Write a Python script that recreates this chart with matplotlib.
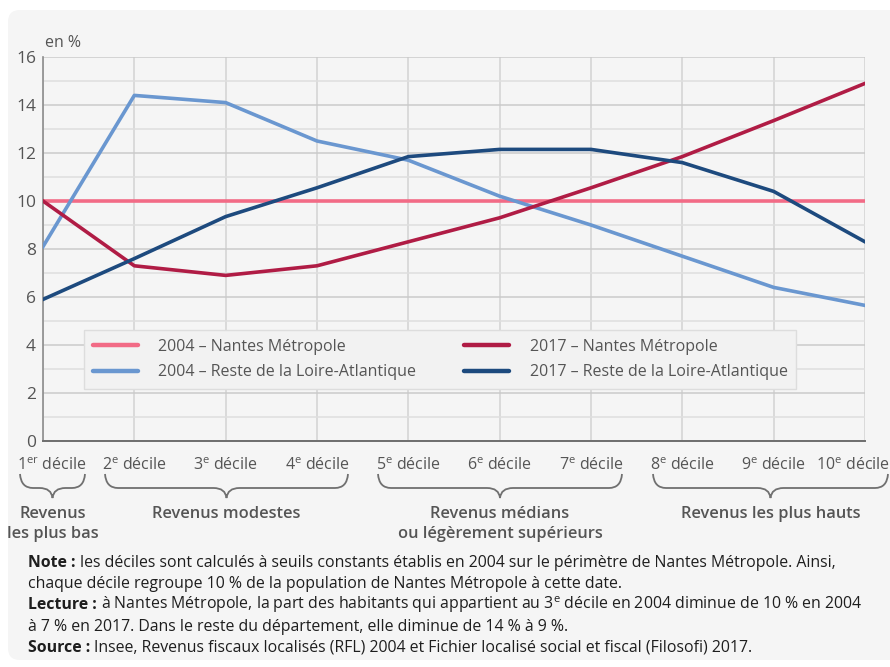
import matplotlib.pyplot as plt
from matplotlib.patches import FancyBboxPatch, PathPatch
from matplotlib.path import Path

plt.rcParams['font.family'] = ['Open Sans', 'DejaVu Sans']
plt.rcParams['mathtext.fontset'] = 'custom'
plt.rcParams['mathtext.rm'] = 'Open Sans'

# données (en %)
deciles = list(range(1, 11))
decile_labels = [r"1$^{\mathrm{er}}$ décile"] + [i + r"$^{\mathrm{e}}$ décile" for i in
                                                  ["2", "3", "4", "5", "6", "7", "8", "9", "10"]]
nantes_2004 = [10.0, 10.0, 10.0, 10.0, 10.0, 10.0, 10.0, 10.0, 10.0, 10.0]
reste_2004 = [8.1, 14.4, 14.1, 12.5, 11.7, 10.2, 9.0, 7.7, 6.4, 5.65]
nantes_2017 = [10.0, 7.3, 6.9, 7.3, 8.3, 9.3, 10.55, 11.85, 13.35, 14.9]
reste_2017 = [5.9, 7.6, 9.35, 10.55, 11.85, 12.15, 12.15, 11.6, 10.4, 8.3]

groups = [("Revenus\nles plus bas", 1, 1), ("Revenus modestes", 2, 4),
          ("Revenus médians\nou légèrement supérieurs", 5, 7), ("Revenus les plus hauts", 8, 10)]

grey_txt = "#555555"
W, H = 890, 667
fig = plt.figure(figsize=(W / 100, H / 100), dpi=100)

# fond
ov = fig.add_axes([0, 0, 1, 1], zorder=-1)
ov.set_xlim(0, W)
ov.set_ylim(H, 0)
ov.axis('off')
ov.add_patch(FancyBboxPatch((8, 10), 900, 650, boxstyle="round,pad=0,rounding_size=12",
                            facecolor="#f5f5f5", edgecolor="none"))

ax = fig.add_axes([43 / W, 1 - 441 / H, (865 - 43) / W, (441 - 57) / H])
ax.patch.set_facecolor("none")
ax.plot(deciles, nantes_2004, color="#f26b86", lw=2.6, label="2004 – Nantes Métropole", zorder=3)
ax.plot(deciles, reste_2004, color="#6a97d0", lw=2.6, label="2004 – Reste de la Loire-Atlantique", zorder=3)
ax.plot(deciles, nantes_2017, color="#b01c45", lw=2.6, label="2017 – Nantes Métropole", zorder=3)
ax.plot(deciles, reste_2017, color="#1d4a7e", lw=2.6, label="2017 – Reste de la Loire-Atlantique", zorder=3)

ax.set_xlim(1, 10)
ax.set_ylim(0, 16)
ax.set_yticks(range(0, 17, 2))
ax.set_yticks(range(1, 16, 2), minor=True)
ax.set_xticks(deciles)
ax.set_xticklabels([])
ax.grid(axis='y', which='major', color="#cacaca", lw=1.1)
ax.grid(axis='y', which='minor', color="#dedede", lw=1.1)
ax.grid(axis='x', which='major', color="#d2d2d2", lw=1.1)
ax.tick_params(axis='both', which='both', length=0, labelsize=12.5, labelcolor=grey_txt, pad=5)
for s in ["top", "right"]:
    ax.spines[s].set_visible(False)
ax.spines["left"].set_color("#8c8c8c")
ax.spines["bottom"].set_color("#6e6e6e")
ax.spines["left"].set_linewidth(1.2)
ax.spines["bottom"].set_linewidth(1.4)

fig.text(45 / W, 1 - 43 / H, "en %", fontsize=11.5, color=grey_txt, va='center')

# libellés des déciles
for d, lab in zip(deciles, decile_labels):
    x = d
    if d == 1:
        x = 1.1
    if d == 10:
        x = 9.87
    ax.text(x, -1.2, lab, ha='center', va='baseline', fontsize=11.5, color=grey_txt)

leg = ax.legend(ncol=2, loc='upper left', bbox_to_anchor=(84 / W, 1 - 330 / H),
                bbox_transform=fig.transFigure, fontsize=11.5, frameon=True, handlelength=2.8,
                handletextpad=1.3, columnspacing=3.0, labelspacing=0.6, borderpad=0.55,
                borderaxespad=0, labelcolor=grey_txt)
leg.get_frame().set_facecolor("#f2f2f2")
leg.get_frame().set_edgecolor("#dddddd")
leg.get_frame().set_alpha(1)
leg.get_frame().set_boxstyle("square,pad=0")
for h in leg.get_lines():
    h.set_linewidth(3.2)
    h.set_solid_capstyle('round')

# accolades et groupes de revenus
def brace(x0, x1, top=474, mid=488, tip=498, r=13):
    xc = (x0 + x1) / 2
    verts = [(x0, top), (x0 + 1, mid), (x0 + r, mid), (xc - r, mid), (xc - 1, mid), (xc, tip),
             (xc + 1, mid), (xc + r, mid), (x1 - r, mid), (x1 - 1, mid), (x1, top)]
    codes = [Path.MOVETO, Path.CURVE3, Path.CURVE3, Path.LINETO, Path.CURVE3, Path.CURVE3,
             Path.CURVE3, Path.CURVE3, Path.LINETO, Path.CURVE3, Path.CURVE3]
    ov.add_patch(PathPatch(Path(verts, codes), facecolor='none', edgecolor="#707070", lw=1.3))
    return xc


brace_ext = {1: (20, 85), 2: (105, 348), 5: (378, 622), 8: (653, 888)}
for name, d0, d1 in groups:
    x0, x1 = brace_ext[d0]
    xc = brace(x0, x1)
    ov.text(xc, 506, name, ha='center', va='top', fontsize=11.8, fontweight='semibold',
            color=grey_txt, linespacing=1.3)

# notes
notes = [
    ("Note :", "les déciles sont calculés à seuils constants établis en 2004 sur le périmètre de Nantes Métropole. Ainsi,"),
    ("", "chaque décile regroupe 10 % de la population de Nantes Métropole à cette date."),
    ("Lecture :", r"à Nantes Métropole, la part des habitants qui appartient au 3$^{\mathrm{e}}$ décile en 2004 diminue de 10 % en 2004"),
    ("", "à 7 % en 2017. Dans le reste du département, elle diminue de 14 % à 9 %."),
    ("Source :", "Insee, Revenus fiscaux localisés (RFL) 2004 et Fichier localisé social et fiscal (Filosofi) 2017."),
]
renderer = fig.canvas.get_renderer()
for i, (bold, line) in enumerate(notes):
    y = 567 + i * 21.2
    x = 28
    if bold:
        t = ov.text(x, y, bold, ha='left', va='baseline', fontsize=11.4, fontweight='bold', color="#1e1e1e")
        x += t.get_window_extent(renderer).width + 4
    ov.text(x, y, line, ha='left', va='baseline', fontsize=11.4, color="#1e1e1e")

fig.savefig("out.png", dpi=100, facecolor="white")
